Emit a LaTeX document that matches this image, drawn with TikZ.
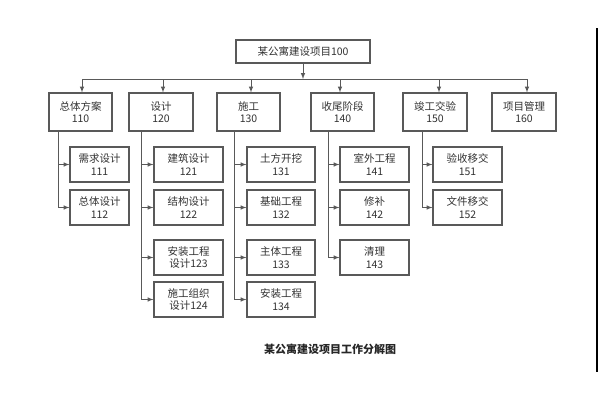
\documentclass[tikz,border=0pt]{standalone}
\usepackage{fontspec}
\setmainfont{Noto Sans CJK SC}
\begin{document}
\begin{tikzpicture}[x=1pt,y=-1pt,
 bx/.style={draw=black!65,line width=1.1pt,fill=white,inner sep=0pt,align=center,font=\fontsize{10.5}{12.5}\selectfont,text=black!80},
 ln/.style={draw=black!65,line width=1pt},
 ar/.style={ln,-latex}]
\useasboundingbox (0,0) rectangle (600,400);
\fill[white] (0,0) rectangle (600,400);
\draw[line width=2pt] (597,28) -- (597,372);
\newcommand{\bxn}[6]{\node[bx,minimum width={#4-#2},minimum height={#5-#3}] (#1) at ({(#2+#4)/2},{(#3+#5)/2}) {#6};}
\bxn{top}{236}{40}{370}{63}{某公寓建设项目100}
\bxn{a}{49}{93}{112}{131}{总体方案\\110}
\bxn{b}{129}{93}{193}{131}{设计\\120}
\bxn{c}{217}{93}{280}{131}{施工\\130}
\bxn{d}{311}{93}{374}{131}{收尾阶段\\140}
\bxn{e}{403}{93}{467}{131}{竣工交验\\150}
\bxn{f}{492}{93}{556}{131}{项目管理\\160}
\coordinate (bus) at (303,79);
\coordinate (busL) at (82,79);
\coordinate (busR) at (527,79);
\draw[ar] (top.south -| bus) -- (bus);
\draw[ln] (busL) -- (busR);
\foreach \n/\x in {a/82,b/163,c/251,d/340,e/439,f/527}{
 \coordinate (t\n) at (\x,79);
 \draw[ar] (t\n) -- (t\n |- \n.north);}
% children
\bxn{a1}{70}{147}{129}{182}{需求设计\\111}
\bxn{a2}{70}{190}{129}{225}{总体设计\\112}
\bxn{b1}{154}{147}{223}{182}{建筑设计\\121}
\bxn{b2}{154}{190}{223}{225}{结构设计\\122}
\bxn{b3}{154}{240}{223}{275}{安装工程\\设计123}
\bxn{b4}{154}{282}{223}{317}{施工组织\\设计124}
\bxn{c1}{247}{147}{315}{182}{土方开挖\\131}
\bxn{c2}{247}{190}{315}{225}{基础工程\\132}
\bxn{c3}{247}{240}{315}{275}{主体工程\\133}
\bxn{c4}{247}{282}{315}{317}{安装工程\\134}
\bxn{d1}{340}{147}{409}{182}{室外工程\\141}
\bxn{d2}{340}{190}{409}{225}{修补\\142}
\bxn{d3}{340}{240}{409}{275}{清理\\143}
\bxn{e1}{433}{147}{502}{182}{验收移交\\151}
\bxn{e2}{433}{190}{502}{225}{文件移交\\152}
\foreach \p/\x/\last/\kids in {a/58/a2/{a1,a2},b/141/b4/{b1,b2,b3,b4},c/234/c4/{c1,c2,c3,c4},d/328/d3/{d1,d2,d3},e/422/e2/{e1,e2}}{
 \coordinate (v\p) at (\x,131);
 \draw[ln] (v\p) -- (\x,0 |- \last.west);
 \foreach \k in \kids { \draw[ar] (\x,0 |- \k.west) -- (\k.west); }}
\node[font=\bfseries\fontsize{11}{12}\selectfont,text=black!85] (cap) at (330,349) {某公寓建设项目工作分解图};
\end{tikzpicture}
\end{document}
